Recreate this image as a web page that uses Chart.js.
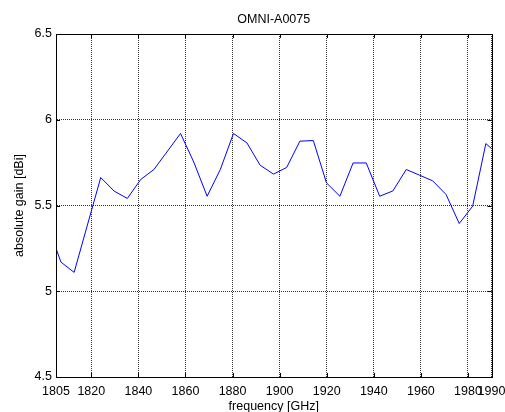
<!DOCTYPE html>
<html>
<head>
<meta charset="utf-8">
<script src="https://cdn.jsdelivr.net/npm/chart.js@4/dist/chart.umd.min.js"></script>
<style>
html,body{margin:0;padding:0;background:#fff;}
#wrap{width:505px;height:412px;position:relative;}
</style>
</head>
<body>
<div id="wrap"><canvas id="c" width="505" height="412"></canvas></div>
<script>
const titleText = "OMNI-A0075";
const xTitle = "frequency [GHz]";
const yTitle = "absolute gain [dBi]";
const frequencies = [1805, 1807.1, 1812.7, 1824.0, 1829.7, 1835.3, 1841.0, 1846.6, 1857.9, 1863.5, 1869.2, 1874.8, 1880.4, 1886.1, 1891.7, 1897.4, 1903.0, 1908.6, 1914.3, 1919.9, 1925.6, 1931.2, 1936.8, 1942.5, 1948.1, 1953.8, 1959.4, 1965.0, 1970.7, 1976.3, 1982.0, 1987.6, 1990];
const gain = [5.25, 5.17, 5.11, 5.663, 5.584, 5.541, 5.652, 5.710, 5.920, 5.754, 5.554, 5.710, 5.920, 5.865, 5.735, 5.683, 5.722, 5.875, 5.879, 5.632, 5.554, 5.748, 5.748, 5.554, 5.585, 5.710, 5.677, 5.644, 5.564, 5.395, 5.496, 5.861, 5.832];
const xTicks = [1805, 1820, 1840, 1860, 1880, 1900, 1920, 1940, 1960, 1980, 1990];
const yTicks = [4.5, 5, 5.5, 6, 6.5];

const FONT = "'Liberation Sans', Arial, sans-serif";
const FS = 12.5;
const points = frequencies.map((f, i) => ({x: f, y: gain[i]}));

const boxPlugin = {
  id: 'box',
  afterDatasetsDraw(chart) {
    const {ctx, chartArea: a, scales} = chart;
    ctx.save();
    ctx.strokeStyle = '#000';
    ctx.lineWidth = 1;
    ctx.setLineDash([]);
    ctx.strokeRect(Math.round(a.left) + 0.5, Math.round(a.top) + 0.5, Math.round(a.right - a.left), Math.round(a.bottom - a.top));
    const L = 4;
    ctx.beginPath();
    scales.x.ticks.forEach(t => {
      const px = Math.round(scales.x.getPixelForValue(t.value)) + 0.5;
      ctx.moveTo(px, a.bottom); ctx.lineTo(px, a.bottom - L);
      ctx.moveTo(px, a.top); ctx.lineTo(px, a.top + L);
    });
    scales.y.ticks.forEach(t => {
      const py = Math.round(scales.y.getPixelForValue(t.value)) + 0.5;
      ctx.moveTo(a.left, py); ctx.lineTo(a.left + L, py);
      ctx.moveTo(a.right, py); ctx.lineTo(a.right - L, py);
    });
    ctx.stroke();
    ctx.restore();
  }
};

new Chart(document.getElementById('c'), {
  type: 'line',
  data: {
    datasets: [{
      data: points,
      borderColor: '#0000ff',
      borderWidth: 1,
      pointRadius: 0,
      tension: 0,
      fill: false
    }]
  },
  options: {
    responsive: false,
    animation: false,
    devicePixelRatio: 1,
    layout: {padding: {left: 0, right: 13.5, top: 0, bottom: 0}},
    plugins: {
      legend: {display: false},
      tooltip: {enabled: false},
      title: {
        display: true,
        fullSize: false,
        text: titleText,
        color: '#000',
        font: {family: FONT, size: FS, weight: 'normal'},
        padding: {top: 12.5, bottom: 6.5}
      }
    },
    scales: {
      x: {
        type: 'linear',
        min: 1805,
        max: 1990,
        afterBuildTicks(scale) { scale.ticks = xTicks.map(v => ({value: v})); },
        afterFit(scale) { scale.height = 35; scale.paddingRight = 0; scale.paddingLeft = 0; },
        ticks: {
          autoSkip: false,
          maxRotation: 0,
          padding: 7,
          color: '#000',
          font: {family: FONT, size: FS},
          callback: v => String(v)
        },
        grid: {color: '#333', lineWidth: 1, drawTicks: false, tickLength: 0},
        border: {display: true, color: '#000', dash: [1, 1]},
        title: {
          display: true,
          text: xTitle,
          color: '#000',
          font: {family: FONT, size: FS},
          padding: {top: 0, bottom: -2}
        }
      },
      y: {
        type: 'linear',
        min: 4.5,
        max: 6.5,
        afterBuildTicks(scale) { scale.ticks = yTicks.map(v => ({value: v})); },
        afterFit(scale) { scale.width = 56; },
        ticks: {
          padding: 4,
          color: '#000',
          font: {family: FONT, size: FS},
          callback: v => String(v)
        },
        grid: {color: '#333', lineWidth: 1, drawTicks: false, tickLength: 0},
        border: {display: true, color: '#000', dash: [1, 1]},
        title: {
          display: true,
          text: yTitle,
          color: '#000',
          font: {family: FONT, size: FS},
          padding: {top: 12.5, bottom: 0}
        }
      }
    }
  },
  plugins: [boxPlugin]
});
</script>
</body>
</html>
